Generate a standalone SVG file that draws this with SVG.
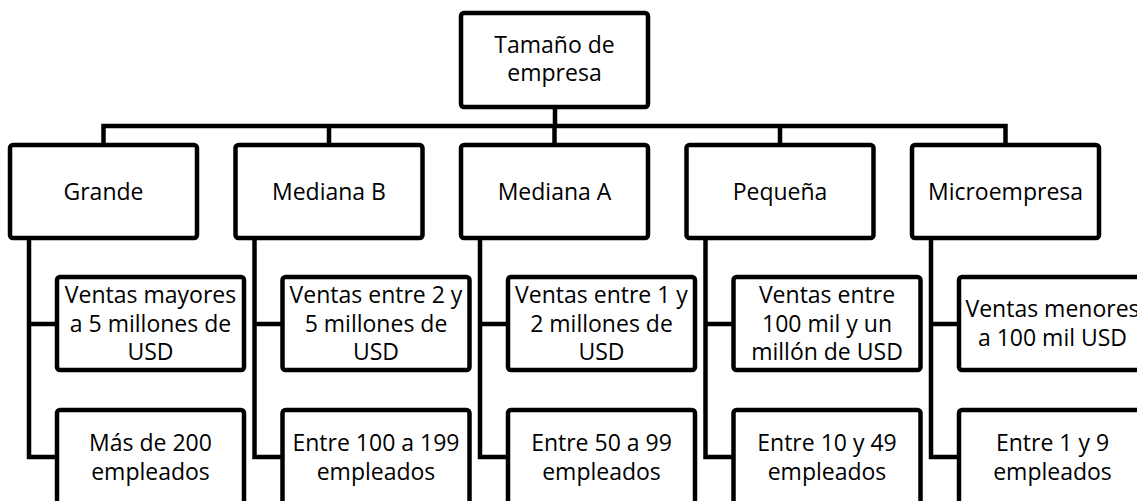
<svg xmlns="http://www.w3.org/2000/svg" width="1137" height="501" viewBox="0 0 1137 501">
<style>
.box{fill:#fff;stroke:#000;stroke-width:4.5}
.ln{fill:none;stroke:#000;stroke-width:4.5;stroke-linejoin:miter}
text{font-family:"Open Sans","Noto Sans","Liberation Sans",sans-serif;font-size:23px;fill:#000;text-anchor:middle}
</style>
<rect width="1137" height="501" fill="#fff"/>
<g id="connectors">
<path class="ln" d="M555,107V126M103.5,145V126H1005.5V145M329,126V145M554.5,126V145M780,126V145"/>
<path class="ln" d="M29,238V457H57M29,324H57"/>
<path class="ln" d="M254.5,238V457H282.5M254.5,324H282.5"/>
<path class="ln" d="M480,238V457H508M480,324H508"/>
<path class="ln" d="M705.5,238V457H733.5M705.5,324H733.5"/>
<path class="ln" d="M931,238V457H959M931,324H959"/>
</g>
<g id="root"><rect class="box" x="461" y="13" width="187" height="94" rx="3"/><text x="554.5" y="53">Tamaño de</text><text x="554.5" y="81">empresa</text></g>
<g id="grande"><rect class="box" x="10" y="145" width="187" height="93" rx="3"/><text x="103.5" y="200">Grande</text></g>
<g id="medianaB"><rect class="box" x="235.5" y="145" width="187" height="93" rx="3"/><text x="329" y="200">Mediana B</text></g>
<g id="medianaA"><rect class="box" x="461" y="145" width="187" height="93" rx="3"/><text x="554.5" y="200">Mediana A</text></g>
<g id="pequena"><rect class="box" x="686.5" y="145" width="187" height="93" rx="3"/><text x="780" y="200">Pequeña</text></g>
<g id="micro"><rect class="box" x="912" y="145" width="187" height="93" rx="3"/><text x="1005.5" y="200">Microempresa</text></g>
<g id="grande-ventas"><rect class="box" x="57" y="277" width="187" height="93" rx="3"/><text x="150.5" y="303">Ventas mayores</text><text x="150.5" y="332">a 5 millones de</text><text x="150.5" y="360">USD</text></g>
<g id="medianaB-ventas"><rect class="box" x="282.5" y="277" width="187" height="93" rx="3"/><text x="376" y="303">Ventas entre 2 y</text><text x="376" y="332">5 millones de</text><text x="376" y="360">USD</text></g>
<g id="medianaA-ventas"><rect class="box" x="508" y="277" width="187" height="93" rx="3"/><text x="601.5" y="303">Ventas entre 1 y</text><text x="601.5" y="332">2 millones de</text><text x="601.5" y="360">USD</text></g>
<g id="pequena-ventas"><rect class="box" x="733.5" y="277" width="187" height="93" rx="3"/><text x="827" y="303">Ventas entre</text><text x="827" y="332">100 mil y un</text><text x="827" y="360">millón de USD</text></g>
<g id="micro-ventas"><rect class="box" x="959" y="277" width="187" height="93" rx="3"/><text x="1052.5" y="317">Ventas menores</text><text x="1052.5" y="346">a 100 mil USD</text></g>
<g id="grande-empleados"><rect class="box" x="57" y="410" width="187" height="94" rx="3"/><text x="150.5" y="451">Más de 200</text><text x="150.5" y="480">empleados</text></g>
<g id="medianaB-empleados"><rect class="box" x="282.5" y="410" width="187" height="94" rx="3"/><text x="376" y="451">Entre 100 a 199</text><text x="376" y="480">empleados</text></g>
<g id="medianaA-empleados"><rect class="box" x="508" y="410" width="187" height="94" rx="3"/><text x="601.5" y="451">Entre 50 a 99</text><text x="601.5" y="480">empleados</text></g>
<g id="pequena-empleados"><rect class="box" x="733.5" y="410" width="187" height="94" rx="3"/><text x="827" y="451">Entre 10 y 49</text><text x="827" y="480">empleados</text></g>
<g id="micro-empleados"><rect class="box" x="959" y="410" width="187" height="94" rx="3"/><text x="1052.5" y="451">Entre 1 y 9</text><text x="1052.5" y="480">empleados</text></g>
</svg>
